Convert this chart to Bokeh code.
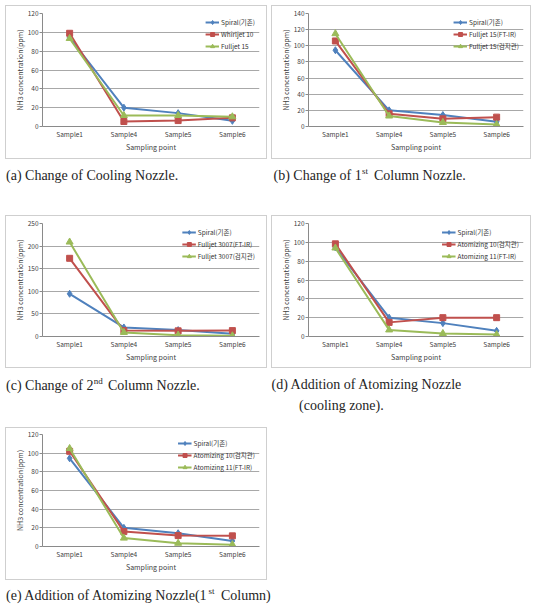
from bokeh.plotting import figure
from bokeh.layouts import column, row
from bokeh.models import Range1d, FactorRange, SingleIntervalTicker, Label, Legend, LegendItem
from bokeh.embed import file_html
from bokeh.resources import INLINE

# ---------------- data ----------------
samples = ["Sample1", "Sample4", "Sample5", "Sample6"]

spiral = [94.5, 20, 14.2, 6]

a_labels = ["Spiral(기존)", "Whirljet 10", "Fulljet 15"]
a_whirljet10 = [99, 5.3, 6.3, 9.2]
a_fulljet15 = [93.5, 11.7, 11.7, 10.3]

b_labels = ["Spiral(기존)", "Fulljet 15(FT-IR)", "Fulljet 15(검지관)"]
b_fulljet15_ftir = [106, 15.7, 9.5, 11.6]
b_fulljet15_tube = [115, 13, 5, 2.5]

c_labels = ["Spiral(기존)", "Fulljet 3007(FT-IR)", "Fulljet 3007(검지관)"]
c_fulljet3007_ftir = [173, 13, 12.5, 13]
c_fulljet3007_tube = [209, 9, 3, 1.5]

d_labels = ["Spiral(기존)", "Atomizing 10(검지관)", "Atomizing 11(FT-IR)"]
d_atomizing10 = [98.4, 15, 20, 20]
d_atomizing11 = [94, 7, 3.2, 2]

e_labels = ["Spiral(기존)", "Atomizing 10(검지관)", "Atomizing 11(FT-IR)"]
e_atomizing10 = [102, 16, 11.7, 11.4]
e_atomizing11 = [105, 9, 3.5, 2]

x_title = "Sampling point"
y_title = "NH3 concentration(ppm)"

# ---------------- style ----------------
COLORS = ["#4F81BD", "#C0504D", "#9BBB59"]
MARKERS = ["diamond", "square", "triangle"]
MSIZES = [7, 6, 7]
CHART_FONT = "Noto Sans CJK KR"
CAP_FONT = "Liberation Serif"
BORDER = "1px solid #cfcfcf"
LB, RB = 36, 9          # common frame borders (bokeh aligns frames in a column)
TOTAL_W = 526


def make_panel(labels, series, ymax, ystep, w, h, mt, mb):
    p = figure(x_range=FactorRange(factors=samples, range_padding=0),
               y_range=Range1d(0, ymax), width=w, height=h,
               output_backend="svg", toolbar_location=None,
               min_border_left=LB, min_border_right=RB,
               min_border_top=mt, min_border_bottom=mb)
    p.styles = {"border": BORDER}
    p.outline_line_color = None
    p.xgrid.grid_line_color = None
    p.ygrid.grid_line_color = "#a8a8a8"
    p.ygrid.grid_line_width = 1
    p.yaxis.ticker = SingleIntervalTicker(interval=ystep)

    for ax in (p.xaxis[0], p.yaxis[0]):
        ax.axis_line_color = "#8a8a8a"
        ax.major_label_text_font = CHART_FONT
        ax.major_label_text_font_size = "6.5px"
        ax.major_label_text_color = "#404040"
        ax.axis_label_text_font = CHART_FONT
        ax.axis_label_text_font_size = "7px"
        ax.axis_label_text_font_style = "normal"
        ax.axis_label_text_color = "#404040"
        ax.minor_tick_line_color = None
        ax.minor_tick_out = 0

    p.xaxis.axis_label = x_title
    p.xaxis.major_tick_line_color = None
    p.xaxis.major_tick_out = 0
    p.xaxis.major_tick_in = 0
    p.xaxis.major_label_standoff = 2
    p.xaxis.axis_label_standoff = 0

    p.yaxis.axis_label = y_title
    p.yaxis.major_tick_line_color = "#8a8a8a"
    p.yaxis.major_tick_in = 0
    p.yaxis.major_tick_out = 3
    p.yaxis.major_label_standoff = 1
    p.yaxis.axis_label_standoff = 0

    items = []
    for lab, vals, c, mk, ms in zip(labels, series, COLORS, MARKERS, MSIZES):
        r1 = p.line(samples, vals, line_color=c, line_width=2)
        r2 = p.scatter(samples, vals, marker=mk, size=ms, fill_color=c, line_color=c)
        items.append(LegendItem(label=lab, renderers=[r1, r2]))
    leg = Legend(items=items, location="top_right", margin=4, padding=2, spacing=2,
                 glyph_width=14, glyph_height=10, label_height=10, label_standoff=2,
                 label_text_font=CHART_FONT, label_text_font_size="6.5px",
                 label_text_color="#333333", border_line_color=None,
                 background_fill_alpha=0)
    p.add_layout(leg)
    return p


def make_caption(h):
    # Shifted left by LB so that its (column-aligned) frame starts at the left edge
    # of the block; data x/y == pixels from the block's top-left corner.
    c = figure(width=TOTAL_W, height=h,
               x_range=Range1d(0, TOTAL_W - LB - RB), y_range=Range1d(h, 0),
               output_backend="svg", toolbar_location=None,
               x_axis_location=None, y_axis_location=None,
               min_border_left=LB, min_border_right=RB, min_border_top=0, min_border_bottom=0,
               margin=(0, 0, 0, -LB))
    c.grid.visible = False
    c.outline_line_color = None
    return c


def add_text(c, x, y, txt, size="14px"):
    c.add_layout(Label(x=x, y=y, text=txt, text_font=CAP_FONT, text_font_size=size,
                       text_baseline="alphabetic", text_color="#1e1e1e"))


pa = make_panel(a_labels, [spiral, a_whirljet10, a_fulljet15], 120, 20, 262, 154, 7, 34)
pb = make_panel(b_labels, [spiral, b_fulljet15_ftir, b_fulljet15_tube], 140, 20, 260, 154, 7, 34)
pc = make_panel(c_labels, [spiral, c_fulljet3007_ftir, c_fulljet3007_tube], 250, 50, 262, 153, 7, 33)
pd = make_panel(d_labels, [spiral, d_atomizing10, d_atomizing11], 120, 20, 260, 153, 7, 33)
pe = make_panel(e_labels, [spiral, e_atomizing10, e_atomizing11], 120, 20, 262, 153, 6, 35)

cap1 = make_caption(56)
add_text(cap1, 0.5, 16, "(a) Change of Cooling Nozzle.")
add_text(cap1, 268, 16, "(b) Change of 1")
add_text(cap1, 268 + 88.6, 11, "st", "9px")
add_text(cap1, 268 + 100.5, 16, "Column Nozzle.")

cap2 = make_caption(59)
add_text(cap2, 0.5, 17, "(c) Change of 2")
add_text(cap2, 88.3, 12, "nd", "9px")
add_text(cap2, 102.5, 17, "Column Nozzle.")
add_text(cap2, 266, 16, "(d) Addition of Atomizing Nozzle")
add_text(cap2, 293.5, 37, "(cooling zone).")

cap3 = make_caption(24)
add_text(cap3, 0.5, 15, "(e) Addition of Atomizing Nozzle(1")
add_text(cap3, 203, 10, "st", "9px")
add_text(cap3, 215.5, 15, "Column)")

layout = column(row(pa, pb, spacing=4), cap1, row(pc, pd, spacing=4), cap2, pe, cap3,
                spacing=0, margin=(5, 0, 0, 5))

open("out.html", "w").write(file_html(layout, INLINE))
